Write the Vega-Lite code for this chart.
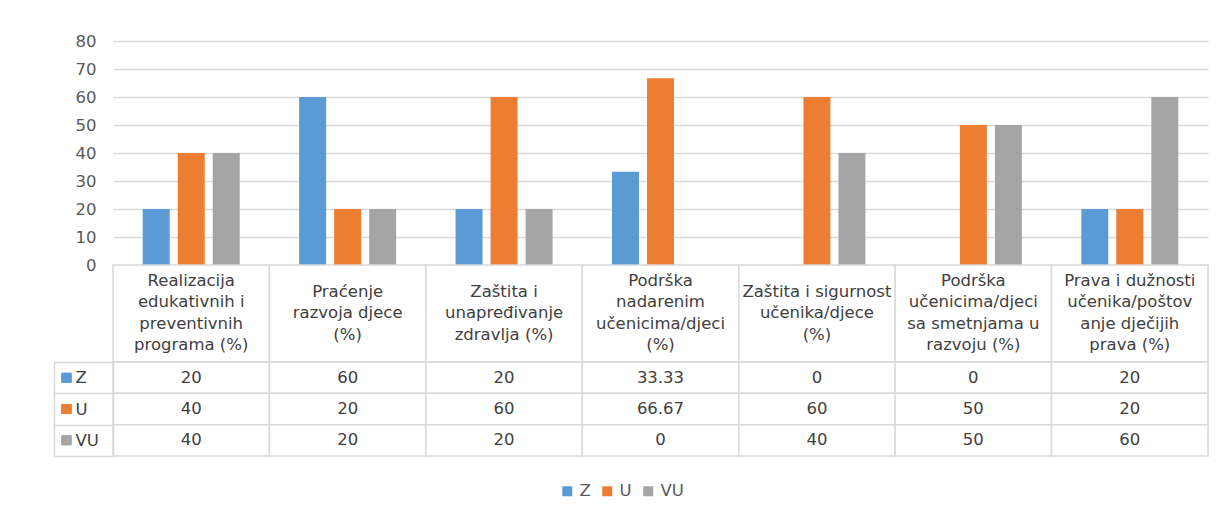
{
  "$schema": "https://vega.github.io/schema/vega-lite/v6.json",
  "padding": {"left": 53, "top": 33, "right": 19, "bottom": 0},
  "background": "white",
  "bounds": "flush",
  "datasets": {
    "values": [
      {"category": "Realizacija edukativnih i preventivnih programa (%)", "series": "Z", "value": 20},
      {"category": "Realizacija edukativnih i preventivnih programa (%)", "series": "U", "value": 40},
      {"category": "Realizacija edukativnih i preventivnih programa (%)", "series": "VU", "value": 40},
      {"category": "Praćenje razvoja djece (%)", "series": "Z", "value": 60},
      {"category": "Praćenje razvoja djece (%)", "series": "U", "value": 20},
      {"category": "Praćenje razvoja djece (%)", "series": "VU", "value": 20},
      {"category": "Zaštita i unapređivanje zdravlja (%)", "series": "Z", "value": 20},
      {"category": "Zaštita i unapređivanje zdravlja (%)", "series": "U", "value": 60},
      {"category": "Zaštita i unapređivanje zdravlja (%)", "series": "VU", "value": 20},
      {"category": "Podrška nadarenim učenicima/djeci (%)", "series": "Z", "value": 33.33},
      {"category": "Podrška nadarenim učenicima/djeci (%)", "series": "U", "value": 66.67},
      {"category": "Podrška nadarenim učenicima/djeci (%)", "series": "VU", "value": 0},
      {"category": "Zaštita i sigurnost učenika/djece (%)", "series": "Z", "value": 0},
      {"category": "Zaštita i sigurnost učenika/djece (%)", "series": "U", "value": 60},
      {"category": "Zaštita i sigurnost učenika/djece (%)", "series": "VU", "value": 40},
      {"category": "Podrška učenicima/djeci sa smetnjama u razvoju (%)", "series": "Z", "value": 0},
      {"category": "Podrška učenicima/djeci sa smetnjama u razvoju (%)", "series": "U", "value": 50},
      {"category": "Podrška učenicima/djeci sa smetnjama u razvoju (%)", "series": "VU", "value": 50},
      {"category": "Prava i dužnosti učenika/poštovanje dječijih prava (%)", "series": "Z", "value": 20},
      {"category": "Prava i dužnosti učenika/poštovanje dječijih prava (%)", "series": "U", "value": 20},
      {"category": "Prava i dužnosti učenika/poštovanje dječijih prava (%)", "series": "VU", "value": 60}
    ],
    "cats": [
      {"category": "Realizacija edukativnih i preventivnih programa (%)", "label": "Realizacija\nedukativnih i\npreventivnih\nprograma (%)"},
      {"category": "Praćenje razvoja djece (%)", "label": "Praćenje\nrazvoja djece\n(%)"},
      {"category": "Zaštita i unapređivanje zdravlja (%)", "label": "Zaštita i\nunapređivanje\nzdravlja (%)"},
      {"category": "Podrška nadarenim učenicima/djeci (%)", "label": "Podrška\nnadarenim\nučenicima/djeci\n(%)"},
      {"category": "Zaštita i sigurnost učenika/djece (%)", "label": "Zaštita i sigurnost\nučenika/djece\n(%)"},
      {"category": "Podrška učenicima/djeci sa smetnjama u razvoju (%)", "label": "Podrška\nučenicima/djeci\nsa smetnjama u\nrazvoju (%)"},
      {"category": "Prava i dužnosti učenika/poštovanje dječijih prava (%)", "label": "Prava i dužnosti\nučenika/poštov\nanje dječijih\nprava (%)"}
    ]
  },
  "spacing": 0,
  "vconcat": [
    {
      "width": 1095,
      "height": 224,
      "data": {"name": "values"},
      "mark": {"type": "bar"},
      "encoding": {
        "x": {"field": "category", "type": "nominal", "sort": null, "axis": null,
              "scale": {"paddingInner": 0.38, "paddingOuter": 0.19}},
        "xOffset": {"field": "series", "type": "nominal", "sort": ["Z", "U", "VU"],
                    "scale": {"paddingInner": 0.23, "paddingOuter": 0}},
        "y": {"field": "value", "type": "quantitative", "scale": {"domain": [0, 80]},
              "axis": {"values": [0, 10, 20, 30, 40, 50, 60, 70, 80], "title": null, "domain": false, "ticks": false,
                       "gridColor": "#d9d9d9", "gridWidth": 1.5, "labelFontSize": 16.5, "labelColor": "#595959", "labelPadding": 17}},
        "color": {"field": "series", "type": "nominal",
                  "scale": {"domain": ["Z", "U", "VU"], "range": ["#5B9BD5", "#ED7D31", "#A5A5A5"]},
                  "legend": {"orient": "none", "legendX": 446, "legendY": 442, "direction": "horizontal", "title": null,
                             "symbolType": "square", "symbolSize": 100, "symbolStrokeWidth": 0, "labelFontSize": 16.5,
                             "labelColor": "#595959", "labelOffset": 4, "columnPadding": 8, "gridAlign": "none", "padding": 0}}
      }
    },
    {
      "width": 1095,
      "height": 97,
      "data": {"name": "cats"},
      "layer": [
        {
          "mark": {"type": "rect", "fill": "white", "stroke": "#d9d9d9", "strokeWidth": 1.5},
          "encoding": {
            "x": {"field": "category", "type": "nominal", "sort": null, "axis": null,
                  "scale": {"paddingInner": 0, "paddingOuter": 0}}
          }
        },
        {
          "transform": [{"filter": "length(split(datum.label, '\\n')) == 4"}],
          "mark": {"type": "text", "lineBreak": "\n", "fontSize": 16.5, "lineHeight": 21.5, "color": "#404040", "baseline": "middle", "align": "center", "dy": -32.75},
          "encoding": {
            "x": {"field": "category", "type": "nominal", "sort": null, "axis": null,
                  "scale": {"paddingInner": 0, "paddingOuter": 0}},
            "text": {"field": "label"}
          }
        },
        {
          "transform": [{"filter": "length(split(datum.label, '\\n')) == 3"}],
          "mark": {"type": "text", "lineBreak": "\n", "fontSize": 16.5, "lineHeight": 21.5, "color": "#404040", "baseline": "middle", "align": "center", "dy": -22},
          "encoding": {
            "x": {"field": "category", "type": "nominal", "sort": null, "axis": null,
                  "scale": {"paddingInner": 0, "paddingOuter": 0}},
            "text": {"field": "label"}
          }
        }
      ]
    },
    {
      "width": 1095,
      "height": 94,
      "data": {"name": "values"},
      "layer": [
        {
          "mark": {"type": "rect", "fill": "white", "stroke": "#d9d9d9", "strokeWidth": 1.5},
          "encoding": {
            "x": {"field": "category", "type": "nominal", "sort": null, "axis": null,
                  "scale": {"paddingInner": 0, "paddingOuter": 0}},
            "y": {"field": "series", "type": "nominal", "sort": ["Z", "U", "VU"],
                  "scale": {"paddingInner": 0, "paddingOuter": 0},
                  "axis": {"title": null, "orient": "left", "domain": true, "domainColor": "#d9d9d9", "domainWidth": 1.5,
                           "ticks": true, "tickBand": "extent", "tickSize": 59, "tickColor": "#d9d9d9", "tickWidth": 1.5,
                           "labelAlign": "left", "labelPadding": -21, "labelFontSize": 16.5, "labelColor": "#404040", "grid": false}}
          }
        },
        {
          "mark": {"type": "text", "fontSize": 16.5, "color": "#404040", "baseline": "middle", "align": "center"},
          "encoding": {
            "x": {"field": "category", "type": "nominal", "sort": null, "axis": null,
                  "scale": {"paddingInner": 0, "paddingOuter": 0}},
            "y": {"field": "series", "type": "nominal", "sort": ["Z", "U", "VU"],
                  "axis": {"title": null, "orient": "left", "offset": 59, "labels": false, "ticks": false,
                           "domain": true, "domainColor": "#d9d9d9", "domainWidth": 1.5, "grid": false}},
            "text": {"field": "value", "type": "quantitative"}
          }
        },
        {
          "mark": {"type": "point", "shape": "square", "filled": true, "size": 90, "opacity": 1, "xOffset": -46.5},
          "encoding": {
            "x": {"datum": "Realizacija edukativnih i preventivnih programa (%)", "type": "nominal", "bandPosition": 0},
            "y": {"field": "series", "type": "nominal", "sort": ["Z", "U", "VU"], "axis": null},
            "color": {"field": "series", "type": "nominal"}
          }
        }
      ],
      "resolve": {"axis": {"y": "independent"}}
    }
  ],
  "resolve": {"scale": {"x": "independent", "y": "independent", "xOffset": "independent"}},
  "config": {"view": {"stroke": null}, "font": "DejaVu Sans"}
}
